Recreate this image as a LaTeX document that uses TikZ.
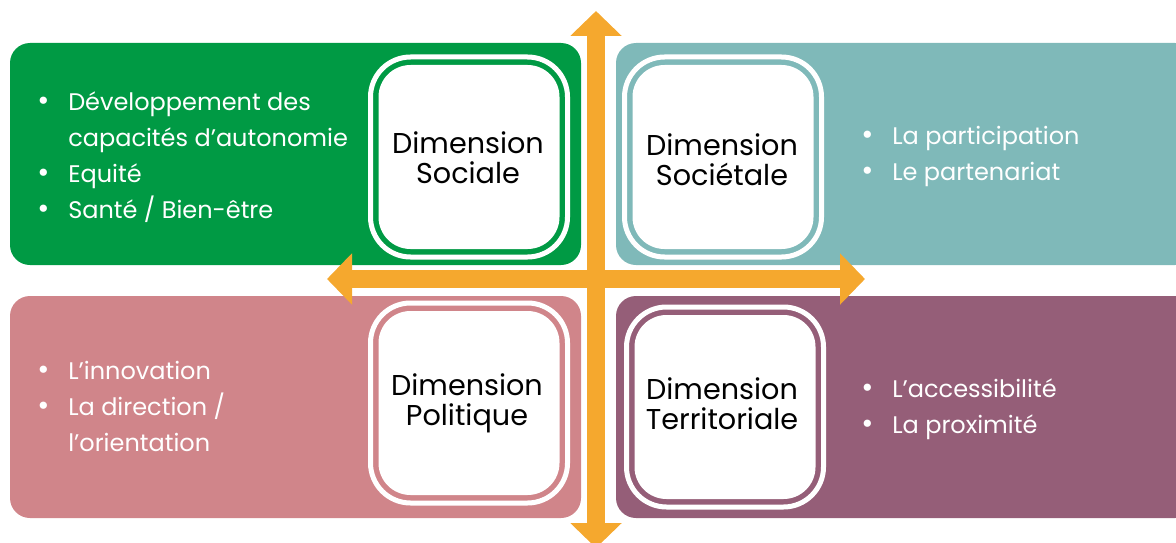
\documentclass[tikz,border=0pt]{standalone}
\usepackage{fontspec}
\setmainfont{Poppins}
\usetikzlibrary{arrows.meta}
\definecolor{cgreen}{HTML}{009A44}
\definecolor{cteal}{HTML}{7FB9B9}
\definecolor{cpink}{HTML}{D0858A}
\definecolor{cpurple}{HTML}{955E78}
\definecolor{corange}{HTML}{F5A82E}
\tikzset{
  quad/.style={fill=#1, rounded corners=15pt},
  ring/.style={draw=white, line width=3.75pt, rounded corners=30pt, inner sep=0pt,
    minimum width=147.75pt, minimum height=150pt},
  core/.style={fill=white, rounded corners=24pt, inner sep=0pt,
    minimum width=135.75pt, minimum height=138pt},
  title/.style={align=center, inner sep=0pt, text=black,
    font=\fontsize{21.5}{22.5}\selectfont},
  items/.style={anchor=west, inner sep=0pt, text=white,
    font=\fontsize{18}{27}\selectfont},
  arr/.style={draw=corange, line width=13.5pt,
    {Triangle[width=37.5pt,length=18.75pt]}-{Triangle[width=37.5pt,length=18.75pt]}}
}
\newcommand{\bul}{\makebox[23.25pt][l]{\fontsize{22}{22}\selectfont•}}
\newcommand{\nobul}{\hspace{23.25pt}}
\begin{document}
\begin{tikzpicture}[x=0.75pt,y=-0.75pt]
\useasboundingbox (0,0) rectangle (1176,542);
% quadrants
\fill[quad=cgreen] (10,43) rectangle (581,265);
\fill[quad=cteal] (616,43) rectangle (1195,265);
\fill[quad=cpink] (10,296) rectangle (581,518);
\fill[quad=cpurple] (616,296) rectangle (1195,518);
% central boxes
\node[ring] (rs) at (469,157) {};
\node[core] (ds) at (469,157) {};
\node[title] (ts) at (468,158) {Dimension\\Sociale};
\node[ring] (rst) at (723,157) {};
\node[core] (dst) at (723,157) {};
\node[title] (tst) at (722,160) {Dimension\\Sociétale};
\node[ring] (rp) at (469,403) {};
\node[core] (dp) at (469,403) {};
\node[title] (tp) at (467,403.5) {Dimension\\Politique};
\node[ring] (rt) at (725,407) {};
\node[core] (dt) at (725,407) {};
\node[title] (tt) at (722,403.5) {Dimension\\Territoriale};
% item lists
\node[items] (ls) at (37,157.5) {\begin{tabular}{@{}l@{}}
\bul Développement des\\ \nobul capacités d’autonomie\\ \bul Equité\\ \bul Santé / Bien-être\end{tabular}};
\node[items] (lst) at (861,155) {\begin{tabular}{@{}l@{}}
\bul La participation\\ \bul Le partenariat\end{tabular}};
\node[items] (lp) at (37,408) {\begin{tabular}{@{}l@{}}
\bul L’innovation\\ \bul La direction /\\ \nobul l’orientation\end{tabular}};
\node[items] (lt) at (861,408) {\begin{tabular}{@{}l@{}}
\bul L’accessibilité\\ \bul La proximité\end{tabular}};
% arrows
\coordinate (vt) at (596,11);
\coordinate (vb) at (596,548);
\coordinate (hl) at (327,279);
\coordinate (hr) at (865,279);
\draw[arr] (vt) -- (vb);
\draw[arr] (hl) -- (hr);
\end{tikzpicture}
\end{document}
